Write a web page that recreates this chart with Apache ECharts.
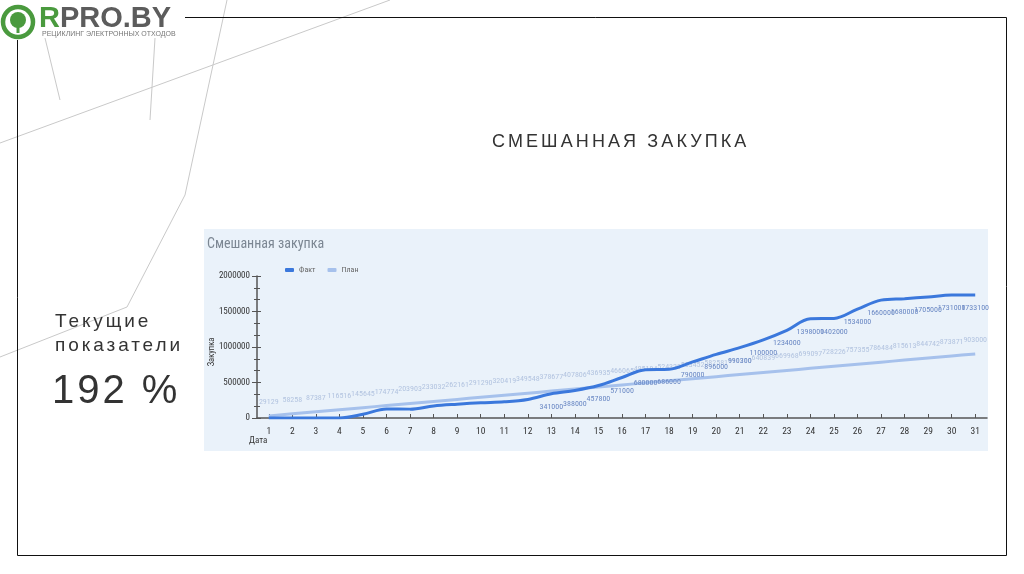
<!DOCTYPE html>
<html>
<head>
<meta charset="utf-8">
<script src="https://cdn.jsdelivr.net/npm/echarts@6/dist/echarts.min.js"></script>
<style>
html,body{margin:0;padding:0;background:#fff;}
#wrap{position:relative;width:1024px;height:574px;overflow:hidden;}
#chart{position:absolute;left:0;top:0;width:1024px;height:574px;}
.t{position:absolute;font-family:'Liberation Sans',Arial,sans-serif;color:#333;white-space:nowrap;}
</style>
</head>
<body>
<div id="wrap">
<div id="chart"></div>
<div class="t" style="left:492px;top:131px;font-size:18px;letter-spacing:3.1px;">СМЕШАННАЯ ЗАКУПКА</div>
<div class="t" style="left:55px;top:309px;font-size:19px;letter-spacing:2.9px;line-height:24px;">Текущие<br>показатели</div>
<div class="t" style="left:52px;top:367px;font-size:40px;letter-spacing:3px;">192 %</div>
</div>
<script>
// ---- data ----
const days = ['1','2','3','4','5','6','7','8','9','10','11','12','13','14','15','16','17','18','19','20','21','22','23','24','25','26','27','28','29','30','31'];
const fact = [0,0,0,0,52000,128000,125000,170000,195000,215000,228000,262000,341000,388000,457800,571000,680000,686000,790000,896000,990300,1100000,1234000,1398000,1402000,1534000,1660000,1680000,1705000,1731000,1733100];
const plan = [29129,58258,87387,116516,145645,174774,203903,233032,262161,291290,320419,349548,378677,407806,436935,466065,495194,524323,553452,582581,611710,640839,669968,699097,728226,757355,786484,815613,844742,873871,903000];
const seriesNames = ['Факт','План'];
const yTicks = [0,500000,1000000,1500000,2000000];
const factLabelFrom = 12; // labels visible from day 13

const NARROW = "'Liberation Sans Narrow','Roboto Condensed','Liberation Sans',Arial,sans-serif";
const chart = echarts.init(document.getElementById('chart'), null, {renderer:'canvas'});

const grey = '#c9c9c9';
const axisCol = '#555';
const option = {
  backgroundColor:'#ffffff',
  animation:false,
  title:{
    text:'Смешанная закупка', left:202, top:232,
    textStyle:{fontSize:14, fontWeight:'normal', color:'#7c8793', fontFamily:NARROW}
  },
  legend:{
    data:seriesNames, left:280, top:261, itemWidth:9, itemHeight:4, itemGap:12, icon:'roundRect',
    textStyle:{fontSize:8, color:'#666', fontFamily:NARROW}
  },
  grid:{left:257, right:37, top:276, bottom:156, containLabel:false},
  xAxis:[{
    type:'category', data:days, boundaryGap:true,
    axisLine:{lineStyle:{color:axisCol, width:1.5}},
    axisTick:{alignWithLabel:true, length:5, lineStyle:{color:axisCol}},
    axisLabel:{fontSize:9.5, color:'#333', margin:9, fontFamily:NARROW},
    splitLine:{show:false}
  },{
    type:'category', data:days, boundaryGap:true, position:'bottom',
    axisLine:{show:false},
    axisTick:{show:true, inside:true, alignWithLabel:true, length:4, lineStyle:{color:axisCol}},
    axisLabel:{show:false}, splitLine:{show:false}
  }],
  yAxis:[{
    type:'value', min:0, max:2000000, interval:500000,
    axisLine:{show:true, lineStyle:{color:axisCol, width:1.5}},
    axisTick:{show:true, length:5, lineStyle:{color:axisCol}},
    minorTick:{show:true, splitNumber:3, length:3, lineStyle:{color:axisCol}},
    axisLabel:{fontSize:9, color:'#333', margin:7, fontFamily:NARROW,
      formatter:v=> yTicks.includes(v) ? String(v) : ''},
    splitLine:{show:false}
  },{
    type:'value', min:0, max:2000000, interval:500000, position:'left',
    axisLine:{show:false},
    axisTick:{show:true, inside:true, length:4, lineStyle:{color:axisCol}},
    minorTick:{show:true, splitNumber:3, length:3, lineStyle:{color:axisCol}},
    axisLabel:{show:false}, splitLine:{show:false}
  }],
  series:[
    {
      name:seriesNames[0], type:'line', smooth:0.35, z:4,
      symbol:'circle', symbolSize:0.1, showSymbol:true,
      itemStyle:{color:'#3b78dc'},
      lineStyle:{color:'#3b78dc', width:3},
      label:{show:true, position:'bottom', distance:9, fontSize:8, color:'#6a88c4', fontFamily:NARROW},
      data:fact.map((v,i)=>({value:v, label:{show:i>=factLabelFrom}}))
    },
    {
      name:seriesNames[1], type:'line', smooth:0.3, z:3,
      symbol:'circle', symbolSize:0.1, showSymbol:true,
      itemStyle:{color:'#a6c1ec'},
      lineStyle:{color:'#a6c1ec', width:3},
      label:{show:true, position:'top', distance:10, fontSize:8, color:'#b3c4e0', fontFamily:NARROW},
      data:plan
    }
  ],
  graphic:[
    // chart panel
    {type:'rect', z:-10, silent:true, shape:{x:204, y:229, width:784, height:222}, style:{fill:'#eaf2fa'}},
    {type:'text', z:5, left:249, top:436, style:{text:'Дата', fontSize:9, fill:'#333', fontFamily:NARROW}},
    {type:'text', z:5, x:212, y:352, rotation:Math.PI/2, style:{text:'Закупка', fontSize:8.5, fill:'#333', fontFamily:NARROW, align:'center', verticalAlign:'middle'}},
    // slide frame
    {type:'polyline', z:1, silent:true, shape:{points:[[185,17.5],[1006.5,17.5],[1006.5,555.5],[17.5,555.5],[17.5,40]]}, style:{stroke:'#111', lineWidth:1, fill:null}},
    // decorative lines
    {type:'polyline', z:-20, silent:true, shape:{points:[[0,143],[390,0]]}, style:{stroke:grey, lineWidth:1, fill:null}},
    {type:'polyline', z:-20, silent:true, shape:{points:[[227,0],[185,195],[127,307],[0,357]]}, style:{stroke:grey, lineWidth:1, fill:null}},
    {type:'polyline', z:-20, silent:true, shape:{points:[[155,38],[150,120]]}, style:{stroke:grey, lineWidth:1, fill:null}},
    {type:'polyline', z:-20, silent:true, shape:{points:[[45,38],[60,100]]}, style:{stroke:grey, lineWidth:1, fill:null}},
    // logo icon
    {type:'circle', z:6, silent:true, shape:{cx:18, cy:22, r:15}, style:{fill:'none', stroke:'#4a9a3e', lineWidth:4.5}},
    {type:'circle', z:6, silent:true, shape:{cx:18, cy:20, r:8}, style:{fill:'#4a9a3e'}},
    {type:'rect', z:6, silent:true, shape:{x:16.5, y:24, width:3, height:9}, style:{fill:'#4a9a3e'}},
    {type:'text', z:6, left:39, top:4, style:{
      text:'{g|R}{d|PRO.BY}',
      rich:{g:{fontSize:29, fontWeight:'bold', fill:'#4a9a3e', fontFamily:"'Liberation Sans',Arial"},
            d:{fontSize:29, fontWeight:'bold', fill:'#5c5c5c', fontFamily:"'Liberation Sans',Arial"}}
    }},
    {type:'text', z:6, left:42, top:31, style:{text:'РЕЦИКЛИНГ ЭЛЕКТРОННЫХ ОТХОДОВ', fontSize:7, fill:'#777', fontFamily:"'Liberation Sans',Arial"}}
  ]
};
chart.setOption(option);
</script>
</body>
</html>
